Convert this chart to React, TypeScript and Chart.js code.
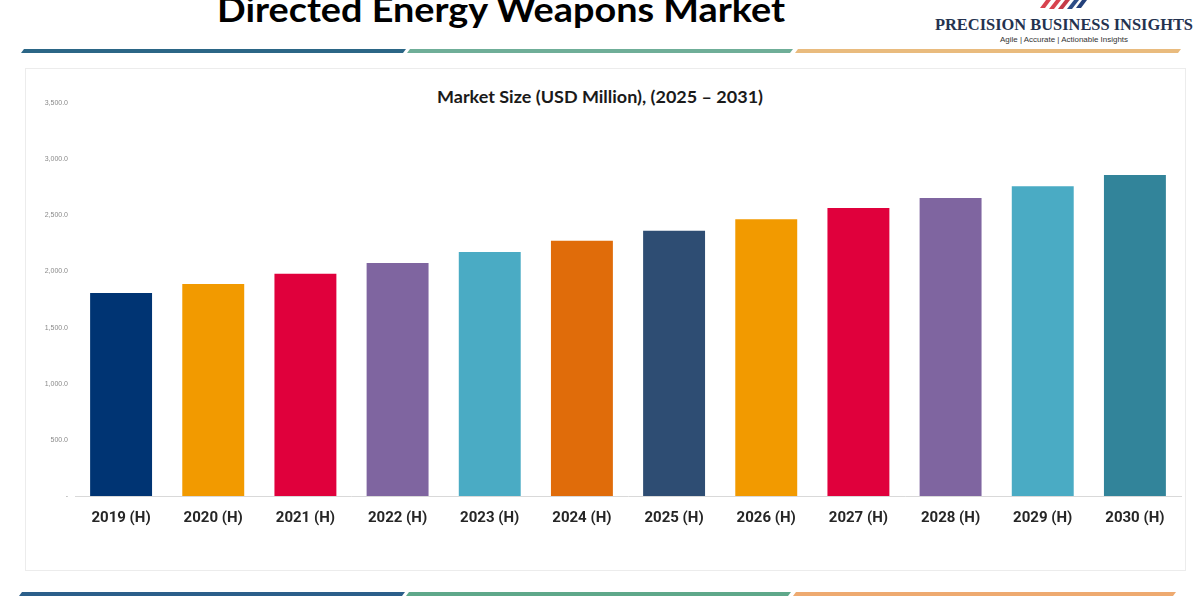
import React, { useEffect, useRef } from "react";
import { Chart, registerables } from "chart.js";

Chart.register(...registerables);

const categories = [
  "2019 (H)", "2020 (H)", "2021 (H)", "2022 (H)", "2023 (H)", "2024 (H)",
  "2025 (H)", "2026 (H)", "2027 (H)", "2028 (H)", "2029 (H)", "2030 (H)",
];
const marketSize = [1808, 1888, 1980, 2075, 2173, 2273, 2362, 2464, 2565, 2654, 2758, 2858];
const barColors = [
  "#003473", "#f29a00", "#e0003c", "#7f65a0", "#4aabc4", "#e06c0a",
  "#2e4d73", "#f29a00", "#e0003c", "#7f65a0", "#4aabc4", "#32849a",
];
const yMax = 3500;
const yStep = 500;

const pageTitle = "Directed Energy Weapons Market";
const chartTitle = "Market Size (USD Million), (2025 \u2013 2031)";
const brandName = "PRECISION BUSINESS INSIGHTS";
const brandTagline = "Agile | Accurate | Actionable Insights";

function Stripe({ x1, x2, y, h, color }: { x1: number; x2: number; y: number; h: number; color: string }) {
  const s = 3;
  const pts = `${x1},${y + h} ${x1 + s},${y} ${x2},${y} ${x2 - s},${y + h}`;
  return <polygon points={pts} fill={color} />;
}

export default function App() {
  const ref = useRef<HTMLCanvasElement | null>(null);

  useEffect(() => {
    if (!ref.current) return;
    const chart = new Chart(ref.current, {
      type: "bar",
      data: {
        labels: categories,
        datasets: [
          {
            data: marketSize,
            backgroundColor: barColors,
            borderWidth: 0,
            barPercentage: 0.672,
            categoryPercentage: 1,
          },
        ],
      },
      options: {
        animation: false,
        responsive: false,
        maintainAspectRatio: false,
        layout: { padding: { top: 35, right: 4, left: 0, bottom: 0 } },
        plugins: {
          legend: { display: false },
          title: { display: false },
          tooltip: { enabled: false },
        },
        scales: {
          x: {
            grid: { display: false, drawTicks: false },
            border: { display: true, color: "#d9d9d9", width: 1 },
            ticks: {
              padding: 13,
              color: "#262626",
              font: { family: "Roboto", size: 15, weight: "bold" },
              maxRotation: 0,
              autoSkip: false,
            },
            afterFit: (axis: any) => {
              axis.height = 74;
            },
          },
          y: {
            min: 0,
            max: yMax,
            grid: { display: false, drawTicks: false },
            border: { display: false },
            ticks: {
              stepSize: yStep,
              padding: 7,
              color: "#8a8a8a",
              font: { family: "Liberation Sans", size: 7 },
              callback: (v: any) =>
                Number(v) === 0
                  ? "-"
                  : Number(v).toLocaleString("en-US", { minimumFractionDigits: 1, maximumFractionDigits: 1 }),
            },
            afterFit: (axis: any) => {
              axis.width = 50;
            },
          },
        },
      },
    });
    return () => chart.destroy();
  }, []);

  return (
    <div style={{ position: "fixed", left: 0, top: 0, width: 1200, height: 600, background: "#ffffff", overflow: "hidden" }}>
      <svg width={1200} height={600} style={{ position: "absolute", left: 0, top: 0 }}>
        <rect x={0} y={0} width={1200} height={600} fill="#ffffff" />
        {/* logo mark (partial) */}
        <g>
          <polygon points="1040,8 1046,0 1051,0 1045,8" fill="#d8434f" />
          <polygon points="1049,9 1056,0 1061,0 1054,9" fill="#d8434f" />
          <polygon points="1058,9 1065,0 1070,0 1063,9" fill="#c43a48" />
          <polygon points="1067,9 1074,0 1079,0 1072,9" fill="#2c4d86" />
          <polygon points="1076,8 1082,0 1087,0 1081,8" fill="#23407a" />
        </g>
        <text
          x={217}
          y={22}
          textLength={568}
          lengthAdjust="spacingAndGlyphs"
          fontFamily="Lato, 'Open Sans', sans-serif"
          fontWeight="bold"
          fontSize={34}
          fill="#000000"
        >
          {pageTitle}
        </text>
        <text
          x={935}
          y={30}
          textLength={258}
          lengthAdjust="spacingAndGlyphs"
          fontFamily="'Liberation Serif', serif"
          fontWeight="bold"
          fontSize={16}
          fill="#24324f"
        >
          {brandName}
        </text>
        <text
          x={1000}
          y={42}
          textLength={128}
          lengthAdjust="spacingAndGlyphs"
          fontFamily="'Liberation Sans', sans-serif"
          fontSize={7}
          fill="#333333"
        >
          {brandTagline}
        </text>
        {/* top decorative stripes */}
        <Stripe x1={21} x2={406} y={49} h={4} color="#2b6686" />
        <Stripe x1={407} x2={793} y={49} h={4} color="#6fae98" />
        <Stripe x1={795} x2={1181} y={49} h={4} color="#e9bb7e" />
        {/* card */}
        <rect x={25.5} y={68.5} width={1160} height={502} fill="#ffffff" stroke="#ececec" strokeWidth={1} />
        <text
          x={437}
          y={103}
          textLength={326}
          lengthAdjust="spacingAndGlyphs"
          fontFamily="Lato, 'Open Sans', sans-serif"
          fontWeight="bold"
          fontSize={17}
          fill="#1a1a1a"
        >
          {chartTitle}
        </text>
        {/* bottom decorative stripes */}
        <Stripe x1={19} x2={405} y={592} h={4} color="#2b5f8a" />
        <Stripe x1={406} x2={791} y={592} h={4} color="#5fa88a" />
        <Stripe x1={793} x2={1176} y={592} h={4} color="#eeaa70" />
      </svg>
      <canvas
        ref={ref}
        width={1160}
        height={502}
        style={{ position: "absolute", left: 25, top: 68, width: 1160, height: 502 }}
      />
    </div>
  );
}
